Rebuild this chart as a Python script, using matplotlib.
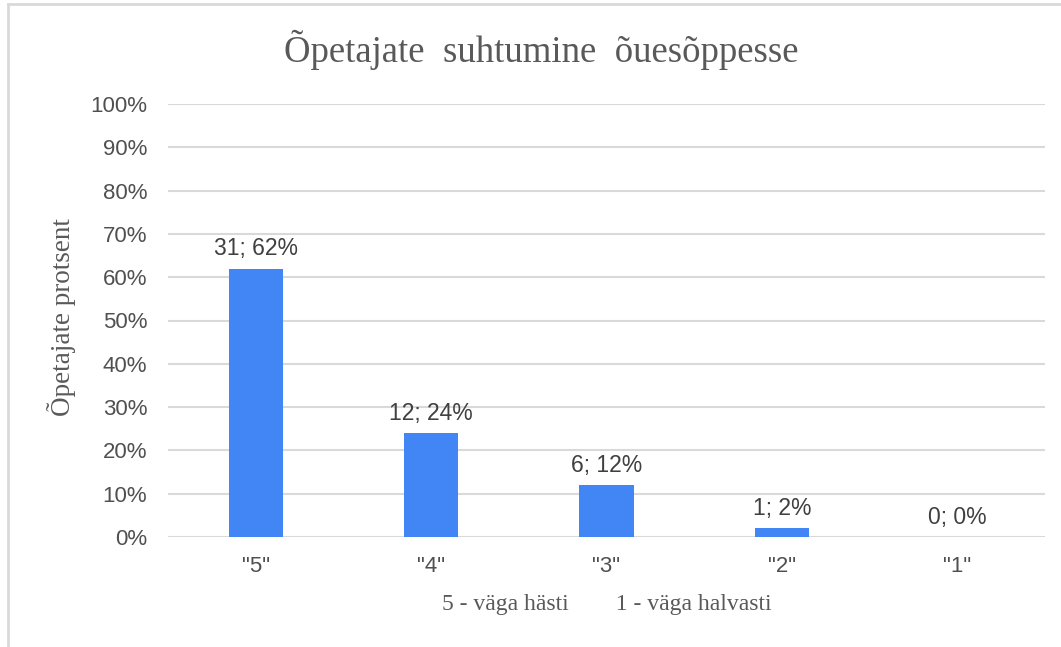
import matplotlib
matplotlib.use("Agg")
import matplotlib.pyplot as plt
from matplotlib.lines import Line2D
from matplotlib.ticker import FuncFormatter

# -------------------------
# Data
# -------------------------
categories = ['"5"', '"4"', '"3"', '"2"', '"1"']
counts = [31, 12, 6, 1, 0]
percents = [62, 24, 12, 2, 0]

W, H = 1061, 647
fig = plt.figure(figsize=(W / 100, H / 100), dpi=100)
fig.patch.set_facecolor("white")

# plot area in pixel coords
left, right, top, bottom = 168, 1045, 104, 537
ax = fig.add_axes([left / W, (H - bottom) / H, (right - left) / W, (bottom - top) / H])

x = range(len(categories))
shares = [p / 100 for p in percents]
ax.bar(x, shares, width=0.31, color="#4285F4", zorder=3)

for i, (c, p) in enumerate(zip(counts, percents)):
    ax.annotate(f"{c}; {p}%", (i, shares[i]), xytext=(0, 6), textcoords="offset points",
                ha="center", va="bottom", fontsize=16.5, color="#404040",
                family="Liberation Sans")

ax.set_xlim(-0.5, len(categories) - 0.5)
ax.set_ylim(0, 1)
ax.set_yticks([i / 10 for i in range(11)])
ax.yaxis.set_major_formatter(FuncFormatter(lambda v, _: f"{v * 100:.0f}%"))
ax.set_xticks(list(x))
ax.set_xticklabels(categories)

ax.grid(axis="y", color="#d9d9d9", linewidth=1.5, zorder=0)
for s in ax.spines.values():
    s.set_visible(False)
ax.tick_params(length=0, labelsize=16, labelcolor="#505050")
ax.tick_params(axis="y", pad=15)
ax.tick_params(axis="x", pad=14)
for lab in ax.get_xticklabels() + ax.get_yticklabels():
    lab.set_family("Liberation Sans")

ax.set_ylabel("Õpetajate protsent", family="Liberation Serif", fontsize=19.5,
              color="#595959", va="center")
ax.yaxis.set_label_coords(-0.121, 0.508)
ax.set_xlabel("5 - väga hästi        1 - väga halvasti", family="Liberation Serif",
              fontsize=17, color="#595959", va="center")
ax.xaxis.set_label_coords(0.5, -0.157)

fig.text(541 / W, 1 - 50 / H, "Õpetajate  suhtumine  õuesõppesse", ha="center", va="center",
         family="Liberation Serif", fontsize=26.5, color="#595959")

# chart border (top and left edges visible)
fig.add_artist(Line2D([8 / W, 1], [1 - 4 / H, 1 - 4 / H], color="#d9d9d9", linewidth=2,
                      transform=fig.transFigure))
fig.add_artist(Line2D([8 / W, 8 / W], [0, 1 - 4 / H], color="#d9d9d9", linewidth=2,
                      transform=fig.transFigure))

fig.savefig("out.png", dpi=100)
